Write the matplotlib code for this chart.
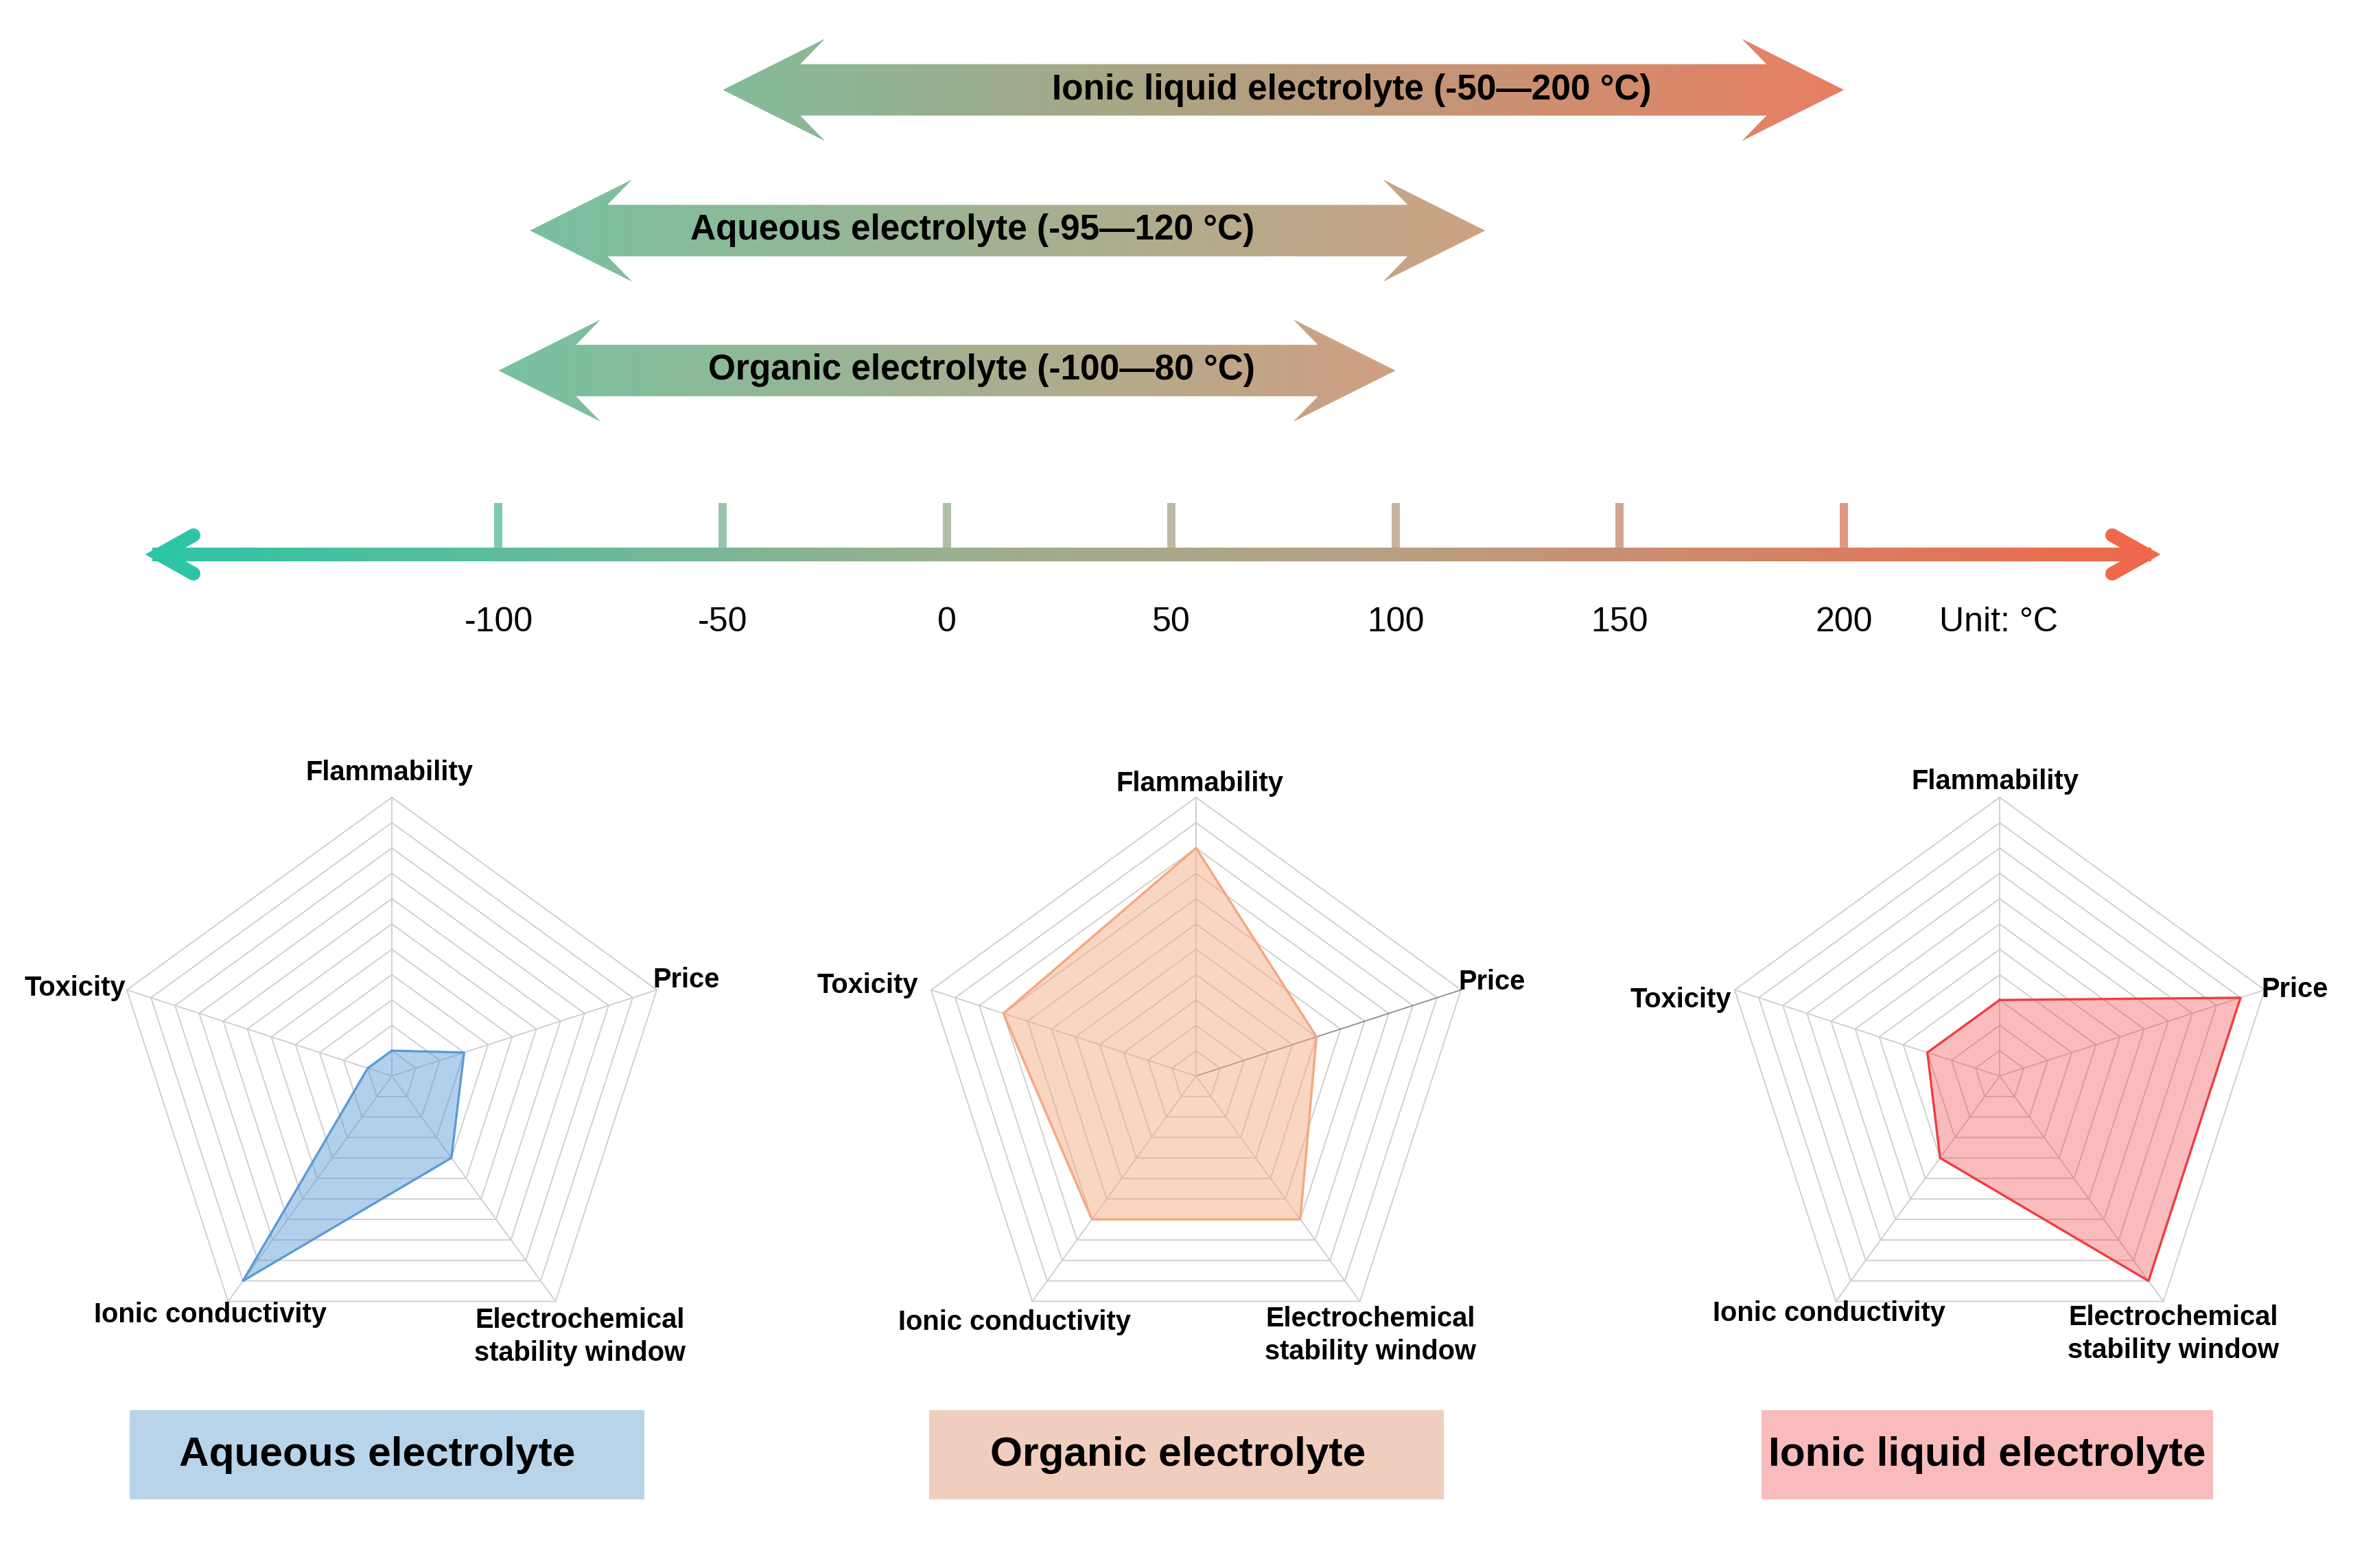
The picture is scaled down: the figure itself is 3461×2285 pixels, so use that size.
import numpy as np
import matplotlib.pyplot as plt
from matplotlib.colors import LinearSegmentedColormap
from matplotlib.patches import Polygon, Rectangle

plt.rcParams['font.family'] = ['Liberation Sans', 'DejaVu Sans']

# ---- temperature windows (top part) ----
range_labels = ['Ionic liquid electrolyte (-50\u2014200 \u00b0C)',
                'Aqueous electrolyte (-95\u2014120 \u00b0C)',
                'Organic electrolyte (-100\u201480 \u00b0C)']
arrow_low = [-50, -93, -100]      # where the drawn arrow tips sit
arrow_high = [200, 120, 100]
label_x = [90.3, 5.7, 7.7]
temp_ticks = [-100, -50, 0, 50, 100, 150, 200]

# ---- radar scores (0-11 rings) ----
criteria = ['Flammability', 'Price', 'Electrochemical\nstability window',
            'Ionic conductivity', 'Toxicity']
panel_names = ['Aqueous electrolyte', 'Organic electrolyte', 'Ionic liquid electrolyte']
aqueous_scores = [1, 3, 4, 10, 1]
organic_scores = [9, 5, 7, 7, 8]
ionic_scores = [3, 10, 10, 4, 3]

W, H = 3461, 2285
fig = plt.figure(figsize=(W / 100, H / 100), dpi=100)

# top axes: x in degC, y in pixels
PX = 6.536      # pixels per degC
X0 = 1380       # pixel of 0 degC
top = fig.add_axes([0, 0, 1, 1])
top.axis('off')

def px(p):
    return (p - X0) / PX

# temperature axis
axis_cmap = LinearSegmentedColormap.from_list(
    'axis', [(0, '#2ec5a6'), (0.4, '#9cb08f'), (0.62, '#b9a083'), (1, '#ef684b')])
t_left, t_right = px(211), px(3149)
grad = np.linspace(0, 1, 256)[None, :]
top.imshow(grad, cmap=axis_cmap, extent=[px(222), px(3135), 818, 798],
           aspect='auto', interpolation='bilinear', zorder=2)
for tip, sgn, col in [(232, 1, '#2ec5a6'), (3128, -1, '#ef684b')]:
    top.plot([px(tip + sgn * 50), px(tip), px(tip + sgn * 50)], [780, 808, 836],
             color=col, lw=14.4, solid_capstyle='round', solid_joinstyle='miter', zorder=3)

def frac(t):
    return (t - t_left) / (t_right - t_left)

for t in temp_ticks:
    top.plot([t, t], [733, 807], color=axis_cmap(frac(t)), alpha=0.8, lw=8.6,
             solid_capstyle='butt', zorder=4)
    top.text(t, 907, str(t), ha='center', va='center', fontsize=36)
top.text(221.2, 907, 'Unit: \u00b0C', ha='left', va='center', fontsize=36)

# range arrows
arrow_y = [131, 336, 540]
arrow_cols = [('#84bc9a', '#e87f62'), ('#79c1a0', '#cda283'), ('#77c2a0', '#d09f82')]
L, n = 149 / PX, 36 / PX
for lo, hi, cy, cols, lab, lx in zip(arrow_low, arrow_high, arrow_y, arrow_cols,
                                     range_labels, label_x):
    pts = [(lo, cy), (lo + L, cy - 74.5), (lo + L - n, cy - 37.5),
           (hi - L + n, cy - 37.5), (hi - L, cy - 74.5), (hi, cy),
           (hi - L, cy + 74.5), (hi - L + n, cy + 37.5),
           (lo + L - n, cy + 37.5), (lo + L, cy + 74.5)]
    poly = Polygon(pts, closed=True, facecolor='none', edgecolor='none')
    top.add_patch(poly)
    cm = LinearSegmentedColormap.from_list('arr', list(cols))
    im = top.imshow(grad, cmap=cm, extent=[lo, hi, cy + 75, cy - 75],
                    aspect='auto', interpolation='bilinear')
    im.set_clip_path(poly)
    top.text(lx, cy, lab, ha='center', va='center', fontsize=37, fontweight='bold')

top.set_xlim(px(0), px(W))
top.set_ylim(H, 0)

# ---- radar panels ----
scores = [aqueous_scores, organic_scores, ionic_scores]
centers = [571, 1743, 2914]
cy_r = 1568
line_cols = ['#5b9bd5', '#f5a77f', '#f03c40']
fill_alpha = [0.47, 0.47, 0.35]
box_cols = ['#b8d4eb', '#f1cdbe', '#f9bbbc']
box_w = [750, 750, 658]
box_dx = [-7, -14, -18]
text_dx = [-21, -26, -18]
unit = 406 / 11
R = 700
lim = R / unit
angles = np.deg2rad([90, 18, -54, -126, 162])
aligns = ['center', 'left', 'center', 'center', 'right']
# label offsets from the panel centre, in pixels (criteria order)
lab_off = [
    [(-4, 442), (380, 140), (274, -380), (-265, -348), (-388, 128)],
    [(5, 426), (382, 137), (254, -378), (-265, -359), (-405, 132)],
    [(-7, 429), (381, 126), (253, -376), (-249, -346), (-391, 111)],
]

for i, (vals, cx) in enumerate(zip(scores, centers)):
    ax = fig.add_axes([(cx - R) / W, (H - cy_r - R) / H, 2 * R / W, 2 * R / H])
    ax.set_xlim(-lim, lim)
    ax.set_ylim(-lim, lim)
    ax.axis('off')
    ca, sa = np.cos(angles), np.sin(angles)
    for k in range(1, 12):
        ax.plot(np.append(k * ca, k * ca[0]), np.append(k * sa, k * sa[0]),
                color='#cdcdcd', lw=1.3, zorder=1)
    for j in range(5):
        spoke = '#8c8c8c' if (i == 1 and j == 1) else '#cdcdcd'
        ax.plot([0, 11 * ca[j]], [0, 11 * sa[j]], color=spoke, lw=1.3, zorder=1)
    v = np.array(vals, dtype=float)
    xs = np.append(v * ca, v[0] * ca[0])
    ys = np.append(v * sa, v[0] * sa[0])
    ax.fill(xs, ys, color=line_cols[i], alpha=fill_alpha[i], lw=0, zorder=2)
    ax.plot(xs, ys, color=line_cols[i], lw=2.4, zorder=3)
    for j, (dx, dy) in enumerate(lab_off[i]):
        ax.text(dx / unit, dy / unit, criteria[j], ha=aligns[j], va='center',
                fontsize=28.7, fontweight='bold', linespacing=1.35, clip_on=False)
    bw = box_w[i] / unit
    bh = 130 / unit
    by = -552 / unit
    ax.add_patch(Rectangle((box_dx[i] / unit - bw / 2, by - bh / 2), bw, bh,
                           facecolor=box_cols[i], edgecolor='none', clip_on=False))
    ax.text(text_dx[i] / unit, by, panel_names[i], ha='center', va='center',
            fontsize=43.5, fontweight='bold', clip_on=False)

fig.savefig('out.png', dpi=100)
